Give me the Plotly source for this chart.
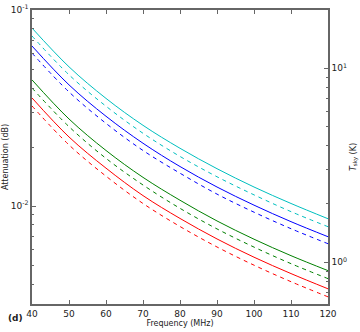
import plotly.graph_objects as go

# Frequencies (MHz) and attenuation (dB)
freq = [40, 50, 60, 70, 80, 90, 100, 110, 120]

cyan_solid = [0.0809, 0.0513, 0.0354, 0.0258, 0.0197, 0.0155, 0.0125, 0.0103, 0.00861]
cyan_dash = [0.0737, 0.0467, 0.0323, 0.0235, 0.0179, 0.0141, 0.0114, 0.00936, 0.00784]
blue_solid = [0.0655, 0.0415, 0.0287, 0.0209, 0.0159, 0.0125, 0.0101, 0.00832, 0.00697]
blue_dash = [0.0603, 0.0382, 0.0264, 0.0192, 0.0147, 0.0115, 0.0093, 0.00766, 0.00642]
green_solid = [0.0440, 0.0278, 0.0192, 0.0140, 0.0107, 0.00839, 0.00677, 0.00558, 0.00468]
green_dash = [0.0400, 0.0254, 0.0175, 0.0128, 0.00973, 0.00764, 0.00617, 0.00508, 0.00426]
red_solid = [0.0356, 0.0225, 0.0156, 0.0113, 0.00864, 0.00679, 0.00548, 0.00452, 0.00378]
red_dash = [0.0324, 0.0205, 0.0142, 0.0103, 0.00786, 0.00618, 0.00499, 0.00411, 0.00344]

x_ticks = [40, 50, 60, 70, 80, 90, 100, 110, 120]
left_ticks = [0.01, 0.1]
left_labels = ["10<sup>-2</sup>", "10<sup>-1</sup>"]
right_ticks = [1, 10]
right_labels = ["10<sup>0</sup>", "10<sup>1</sup>"]

series = [
    (cyan_solid, "#00bfbf", "solid"),
    (cyan_dash, "#00bfbf", "dash"),
    (blue_solid, "#0000ff", "solid"),
    (blue_dash, "#0000ff", "dash"),
    (green_solid, "#008000", "solid"),
    (green_dash, "#008000", "dash"),
    (red_solid, "#ff0000", "solid"),
    (red_dash, "#ff0000", "dash"),
]

fig = go.Figure()
for vals, col, dash in series:
    fig.add_trace(go.Scatter(x=freq, y=vals, mode="lines", line_shape="spline",
                             line=dict(color=col, width=1, dash=dash if dash == "solid" else "4px,4px"),
                             showlegend=False))

# invisible trace to get the right-hand axis
fig.add_trace(go.Scatter(x=[freq[0]], y=[1], yaxis="y2", mode="markers",
                         marker=dict(opacity=0), showlegend=False, hoverinfo="skip"))

axis_line = "#666666"
tick_font = dict(family="DejaVu Sans", size=9, color="#222")

fig.update_layout(
    width=360, height=332,
    margin=dict(l=32, r=32, t=10, b=28),
    plot_bgcolor="white", paper_bgcolor="white",
    font=dict(family="DejaVu Sans", size=8, color="#222"),
    xaxis=dict(range=[40, 120], tickvals=x_ticks, ticks="inside", ticklen=4,
               tickcolor=axis_line, showline=True, linecolor=axis_line, linewidth=1.5,
               mirror="ticks", showgrid=False, zeroline=False, tickfont=tick_font,
               automargin=False,
               title=dict(text="Frequency (MHz)", font=dict(size=8), standoff=1)),
    yaxis=dict(type="log", range=[-2.5, -1], tickvals=left_ticks, ticktext=left_labels,
               ticks="inside", ticklen=4, tickcolor=axis_line, showline=True,
               linecolor=axis_line, linewidth=1.5, showgrid=False, zeroline=False,
               tickfont=tick_font, automargin=False,
               minor=dict(ticks="inside", ticklen=2, tickcolor=axis_line, dtick="D1", showgrid=False),
               title=dict(text="Attenuation (dB)", font=dict(size=8), standoff=1)),
    yaxis2=dict(type="log", range=[-0.215, 1.30], overlaying="y", side="right",
                tickvals=right_ticks, ticktext=right_labels, ticks="inside", ticklen=4,
                tickcolor=axis_line, showline=True, linecolor=axis_line, linewidth=1.5,
                showgrid=False, zeroline=False, tickfont=tick_font, automargin=False,
                minor=dict(ticks="inside", ticklen=2, tickcolor=axis_line, dtick="D1", showgrid=False),
                title=dict(text="<i>T</i><sub>sky</sub> (K)", font=dict(size=8), standoff=4)),
)

fig.add_annotation(text="<b>(d)</b>", xref="paper", yref="paper", x=-0.055, y=-0.048,
                   xanchor="center", yanchor="middle", showarrow=False,
                   font=dict(size=9, color="#222"))

# drop the page's default body margin so the figure sits at the window's corner
fig.write_html("out.html", config={"displayModeBar": False},
               post_script="document.body.style.margin='0';")
